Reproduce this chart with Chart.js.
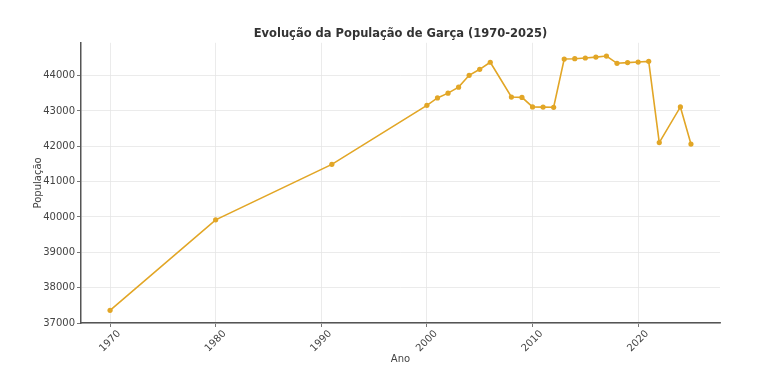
<!DOCTYPE html>
<html>
<head>
<meta charset="utf-8">
<script src="https://cdn.jsdelivr.net/npm/chart.js@4"></script>
<style>
  html, body { margin: 0; padding: 0; background: #fff; }
  #wrap { width: 768px; height: 365px; }
</style>
</head>
<body>
<div id="wrap"><canvas id="popChart" width="768" height="365"></canvas></div>
<script>
// Dados
const years = [1970, 1980, 1991, 2000, 2001, 2002, 2003, 2004, 2005, 2006, 2008, 2009, 2010, 2011, 2012,
               2013, 2014, 2015, 2016, 2017, 2018, 2019, 2020, 2021, 2022, 2024, 2025];
const population = [37360, 39920, 41490, 43160, 43370, 43505, 43675, 44010, 44180, 44380, 43395, 43385, 43115, 43110, 43105,
                    44470, 44480, 44500, 44525, 44555, 44350, 44370, 44385, 44405, 42105, 43115, 42065];
const yTicks = [37000, 38000, 39000, 40000, 41000, 42000, 43000, 44000];
const xTicks = [1970, 1980, 1990, 2000, 2010, 2020];

const font = 'DejaVu Sans';
Chart.defaults.font.family = font;
Chart.defaults.color = '#444';

const ctx = document.getElementById('popChart').getContext('2d');

new Chart(ctx, {
    type: 'line',
    data: {
        datasets: [{
            label: 'População',
            data: years.map((y, i) => ({ x: y, y: population[i] })),
            borderColor: '#E2A626',
            backgroundColor: '#E2A626',
            borderWidth: 1.6,
            pointRadius: 2.6,
            pointBorderWidth: 0,
            pointHoverRadius: 2.6,
            fill: false,
            tension: 0
        }]
    },
    options: {
        responsive: false,
        animation: false,
        layout: { padding: { left: 26, right: 48, top: 0, bottom: 0 } },
        plugins: {
            legend: { display: false },
            tooltip: { enabled: false },
            title: {
                display: true,
                text: 'Evolução da População de Garça (1970-2025)',
                color: '#333',
                font: { size: 11.5, weight: 'bold' },
                fullSize: false,
                padding: { top: 27, bottom: 2 }
            }
        },
        scales: {
            x: {
                type: 'linear',
                min: 1967.25,
                max: 2027.75,
                afterBuildTicks: (scale) => { scale.ticks = xTicks.map(v => ({ value: v })); },
                afterFit: (scale) => { scale.height = 42; },
                ticks: {
                    minRotation: 45,
                    maxRotation: 45,
                    labelOffset: 9,
                    padding: 1,
                    font: { size: 10 },
                    callback: (v) => String(v)
                },
                grid: { color: '#e6e6e6', lineWidth: 0.8, tickLength: 4, tickColor: '#555' },
                border: { color: '#555', width: 1.5 },
                title: { display: true, text: 'Ano', font: { size: 10 }, padding: { top: 0, bottom: 0 } }
            },
            y: {
                min: 37000,
                max: 44930,
                afterBuildTicks: (scale) => { scale.ticks = yTicks.map(v => ({ value: v })); },
                afterFit: (scale) => { scale.width = 55; },
                ticks: {
                    padding: 2,
                    font: { size: 10 },
                    callback: (v) => String(v)
                },
                grid: { color: '#e6e6e6', lineWidth: 0.8, tickLength: 4, tickColor: '#555' },
                border: { color: '#555', width: 1.5 },
                title: { display: true, text: 'População', font: { size: 10 }, padding: { top: 6, bottom: 0 } }
            }
        }
    }
});
</script>
</body>
</html>
